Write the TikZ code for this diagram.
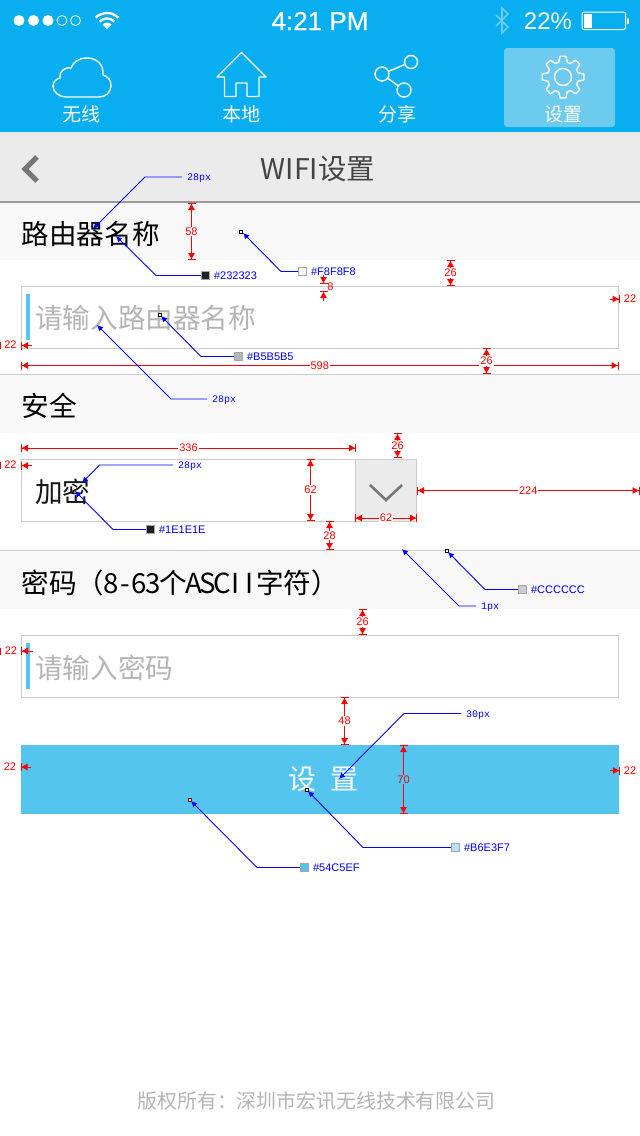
\documentclass[tikz,border=0pt]{standalone}
\usepackage{fontspec}
\setmainfont{Liberation Sans}
\newfontfamily\cjk{Noto Sans CJK SC}
\newfontfamily\pxfont{Liberation Mono}
\newfontfamily\statfont[FakeBold=0.5]{Liberation Sans}
\usetikzlibrary{arrows.meta,positioning}
\definecolor{navblue}{HTML}{08AEEF}
\definecolor{tabblue}{HTML}{6DCBEF}
\definecolor{btnblue}{HTML}{54C5EF}
\definecolor{pagegray}{HTML}{EBEBEB}
\definecolor{rowgray}{HTML}{F8F8F8}
\definecolor{linegray}{HTML}{CCCCCC}
\definecolor{hintgray}{HTML}{B5B5B5}
\definecolor{inkgray}{HTML}{444444}
\definecolor{chevgray}{HTML}{777777}
\definecolor{btgray}{HTML}{6CCCF5}
\newcommand{\hc}[1]{\makebox[13.8pt]{#1}}
\tikzset{
  dimtip/.tip={Triangle[length=6pt,width=6.5pt] Bar[width=8pt,line width=1pt,sep=0pt]},
  row/.style={fill=rowgray,draw=none},
  inputbox/.style={draw=linegray,line width=1pt,fill=white},
  hintbar/.style={fill=btnblue,draw=none},
  icon/.style={draw=white,line width=1.4pt,line join=round},
  chev/.style={draw=chevgray,line join=miter},
  navlabel/.style={font=\cjk\fontsize{19}{22}\selectfont,text=white,inner sep=0pt},
  rowlabel/.style={font=\cjk\fontsize{27.6}{32}\selectfont,text=black,anchor=west,inner sep=0pt},
  hintlabel/.style={rowlabel,text=hintgray},
  dimline/.style={draw=red,line width=1pt,dimtip-dimtip},
  dimout/.style={draw=red,line width=1pt,-dimtip},
  dimlabel/.style={font=\fontsize{11}{13}\selectfont,text=red,fill=white,inner sep=1pt},
  dimtext/.style={font=\fontsize{11}{13}\selectfont,text=red,inner sep=0pt},
  tickmark/.style={fill=red,draw=none,minimum width=1pt,minimum height=7pt,inner sep=0pt},
  leader/.style={draw=blue,line width=.9pt,-{Latex[length=6pt,width=6pt]}},
  swatch/.style={draw=gray!70,line width=.8pt,minimum size=8pt,inner sep=0pt},
  hexlabel/.style={font=\fontsize{11}{13}\selectfont,text=blue,inner sep=0pt},
  pxlabel/.style={font=\pxfont\fontsize{10}{12}\selectfont,text=blue,inner sep=0pt,yshift=-1.5pt},
  marker/.style={draw=black,fill=white,line width=.7pt,minimum size=3pt,inner sep=0pt},
}
\begin{document}
\begin{tikzpicture}[x=1pt,y=-1pt]
  \useasboundingbox (0,0) rectangle (640,1136);
  \fill[white] (0,0) rectangle (640,1136);
  % status bar and tabs
  \fill[navblue] (0,0) rectangle (640,132);
  \fill[tabblue,rounded corners=3pt] (504,48) rectangle (615,127);
  \foreach \x in {19,33.5,48}{ \fill[white] (\x,20.5) circle (5.5); }
  \foreach \x in {62,75.5}{ \draw[white,line width=.8pt] (\x,20.5) circle (5); }
  \foreach \r in {10.5,16}{ \draw[white,line width=2.4pt] (107,29)++(225:\r) arc (225:315:\r); }
  \fill[white] (107,29) -- (102.5,24.5) arc (225:315:6.4) -- cycle;
  \node[font=\statfont\fontsize{26}{30}\selectfont,text=white,inner sep=0pt] (clock) at (320,21) {4:21 PM};
  \draw[btgray,line width=1.6pt] (496,15) -- (508,27) -- (502,33) -- (502,8) -- (508,14) -- (496,26);
  \node[font=\fontsize{24}{28}\selectfont,text=white,inner sep=0pt] (battpct) at (548,21) {22\%};
  \draw[white,line width=1pt,rounded corners=2pt] (582,12) rectangle (625.5,29.5);
  \fill[white] (584,14) rectangle (592,27.5);
  \fill[white] (627,18) rectangle (628.5,24);
  % tab icons
  \draw[icon] (66,97) -- (99,97) .. controls (106,97) and (111,92) .. (111,85.5)
    .. controls (111,80) and (108,76.5) .. (103,75) .. controls (104,65) and (97,58) .. (87,58)
    .. controls (79,58) and (73,62) .. (71,68) .. controls (64,67) and (59,72) .. (60,78)
    .. controls (56,79) and (53,82) .. (53,86) .. controls (53,92) and (59,97) .. (66,97) -- cycle;
  \draw[icon] (241.5,52.5) -- (217,77) -- (224.5,77) -- (224.5,96.5) -- (236,96.5) -- (236,83)
    -- (247,83) -- (247,96.5) -- (259,96.5) -- (259,77) -- (266,77) -- cycle;
  \node[draw=white,line width=1.4pt,circle,minimum size=13pt,inner sep=0pt] (shareT) at (411,62) {};
  \node[draw=white,line width=1.4pt,circle,minimum size=14pt,inner sep=0pt] (shareL) at (382,74) {};
  \node[draw=white,line width=1.4pt,circle,minimum size=14pt,inner sep=0pt] (shareB) at (404,90) {};
  \draw[icon] (shareL) -- (shareT);
  \draw[icon] (shareL) -- (shareB);
  \begin{scope}[shift={(563,77)}]
    \draw[icon] (-16:15.5) foreach \a in {0,45,...,315}{ -- (\a-16:15.5) -- (\a-8:21) -- (\a+8:21) -- (\a+16:15.5) } -- cycle;
    \draw[icon] (0,0) circle (8.5);
  \end{scope}
  \node[navlabel] (tabwifi) at (81,114) {无线};
  \node[navlabel] (tablocal) at (241,114) {本地};
  \node[navlabel] (tabshare) at (397,114) {分享};
  \node[navlabel] (tabset) at (563,114) {设置};
  % page
  \fill[pagegray] (0,132) rectangle (640,202);
  \draw[gray!80,line width=1.5pt] (0,202) -- (640,202);
  \draw[chev,line width=5pt] (37,157) -- (25,169) -- (37,181);
  \node[font=\cjk\fontsize{28.5}{32}\selectfont,text=inkgray,inner sep=0pt] (title) at (318,169) {WIFI设置};
  \fill[row] (0,203) rectangle (640,260);
  \fill[row] (0,374) rectangle (640,433);
  \fill[row] (0,550) rectangle (640,609);
  \draw[linegray,line width=1pt] (0,374.5) -- (640,374.5);
  \draw[linegray,line width=1pt] (0,550.5) -- (640,550.5);
  \draw[inputbox] (21.5,286.5) rectangle (618.5,348.5);
  \draw[inputbox] (21.5,459.5) rectangle (355.5,521.5);
  \draw[inputbox,fill=pagegray] (355.5,459.5) rectangle (416.5,521.5);
  \draw[inputbox] (21.5,635.5) rectangle (618.5,697.5);
  \fill[hintbar] (26,294) rectangle (30,340);
  \fill[hintbar] (26,643) rectangle (30,689);
  \fill[btnblue] (21,745) rectangle (619,814);
  \draw[chev,line width=2.6pt] (370,485) -- (386,500) -- (402,485);
  \node[rowlabel] (rowname) at (21.5,234) {路由器名称};
  \node[hintlabel] (hintname) at (35,318) {请输入路由器名称};
  \node[rowlabel] (rowsafe) at (21.5,406) {安全};
  \node[rowlabel,text=inkgray!30!black] (rowcrypt) at (35,492) {加密};
  \node[rowlabel] (rowpass) at (21.5,583) {密码（\hc8\hc-\hc6\hc3个\hc A\hc S\hc C\hc I\hc I字符）};
  \node[hintlabel] (hintpass) at (35,668) {请输入密码};
  \node[font=\cjk\fontsize{28}{32}\selectfont,text=white,inner sep=0pt] (btnset) at (323,779) {设\hspace{14pt}置};
  \node[font=\cjk\fontsize{19.9}{24}\selectfont,text=hintgray,inner sep=0pt] (copyright) at (316.5,1101) {版权所有：深圳市宏讯无线技术有限公司};
  % red measures
  \foreach \n/\xa/\ya/\xb/\yb/\lab in {a/191.5/203/191.5/260/58,b/450.5/260/450.5/286/26,c/21/365.5/618.5/365.5/598,
      d/486.5/348/486.5/374/26,e/21/448/356/448/336,f/397.5/433/397.5/458/26,g/310.5/459/310.5/521/62,
      h/355/518/417/518/62,i/417/490.5/639.5/490.5/224,j/329.5/521/329.5/550/28,k/362.5/609/362.5/635/26,
      l/344.5/697/344.5/745/48}{
    \coordinate (dim\n a) at (\xa,\ya);
    \coordinate (dim\n b) at (\xb,\yb);
    \draw[dimline] (dim\n a) -- (dim\n b) node[dimlabel,midway] (dim\n t) {\lab};
  }
  \coordinate (dimma) at (403.5,745);
  \coordinate (dimmb) at (403.5,814);
  \draw[dimline] (dimma) -- (dimmb) node[dimlabel,midway,fill=btnblue] (dimmt) {70};
  % the outside ones
  \foreach \n/\xa/\ya/\xb/\yb/\tx/\ty/\lab in {p/32/345.5/21/345.5/10.5/345/22,q/32/465.5/21/465.5/10.5/465/22,
      r/33/651/21/651/11/651/22,s/31/767/20.5/767/10/767/22,t/610/299/619.5/299/630/299/22,u/610/770.5/620/770.5/630/770.5/22,
      v/323.5/275/323.5/284/330.5/287/8}{
    \coordinate (dim\n a) at (\xa,\ya);
    \coordinate (dim\n b) at (\xb,\yb);
    \draw[dimout] (dim\n a) -- (dim\n b);
    \node[dimtext] (dim\n t) at (\tx,\ty) {\lab};
  }
  \coordinate (dimwa) at (323.5,301);
  \coordinate (dimwb) at (323.5,291);
  \draw[dimout] (dimwa) -- (dimwb);
  \foreach \y in {345.5,465.5,651}{ \node[tickmark] at (0.5,\y) {}; }
  % blue leaders with a swatch
  \foreach \n/\tx/\ty/\ex/\ey/\sx/\sy/\col in {a/116/236/156/275.5/205.5/275.5/232323,b/243/233/281/271.5/302.5/271.5/F8F8F8,
      c/161/316/201/356.5/238.5/356.5/B5B5B5,d/75/491/113/529.5/150.5/529.5/1E1E1E,e/448/552/485/589.5/522.5/589.5/CCCCCC,
      f/308/791/363/847.5/455.5/847.5/B6E3F7,g/191/801/257/867.5/304.5/867.5/54C5EF}{
    \definecolor{swatchcol}{HTML}{\col}
    \coordinate (tip\n) at (\tx,\ty);
    \coordinate (elbow\n) at (\ex,\ey);
    \node[swatch,fill=swatchcol] (sw\n) at (\sx,\sy) {};
    \node[hexlabel,right=4pt of sw\n] (hex\n) {\#\col};
    \draw[leader] (sw\n.west) -- (elbow\n) -- (tip\n);
  }
  \foreach \n/\x/\y/\col in {b/241/231.5/black,c/159.5/314.5/black,e/446.5/550.5/black,f/306.5/789.5/black,g/189.5/799.5/red!60!black}{
    \node[marker,draw=\col] (mark\n) at (\x,\y) {};
  }
  % blue leaders with a size
  \foreach \n/\tx/\ty/\ex/\ey/\fx/\fy/\lab in {h/93/229/145/177/182/177/28px,i/97/325/171/399/207/399/28px,
      j/82/483/99.5/465/173/465/28px,k/402/549/459/606/476/606/1px,l/339/779/404/713.5/461/713.5/30px}{
    \coordinate (tip\n) at (\tx,\ty);
    \coordinate (elbow\n) at (\ex,\ey);
    \coordinate (free\n) at (\fx,\fy);
    \node[pxlabel,right=5pt of free\n] (size\n) {\lab};
    \draw[leader] (free\n) -- (elbow\n) -- (tip\n);
  }
\end{tikzpicture}
\end{document}
